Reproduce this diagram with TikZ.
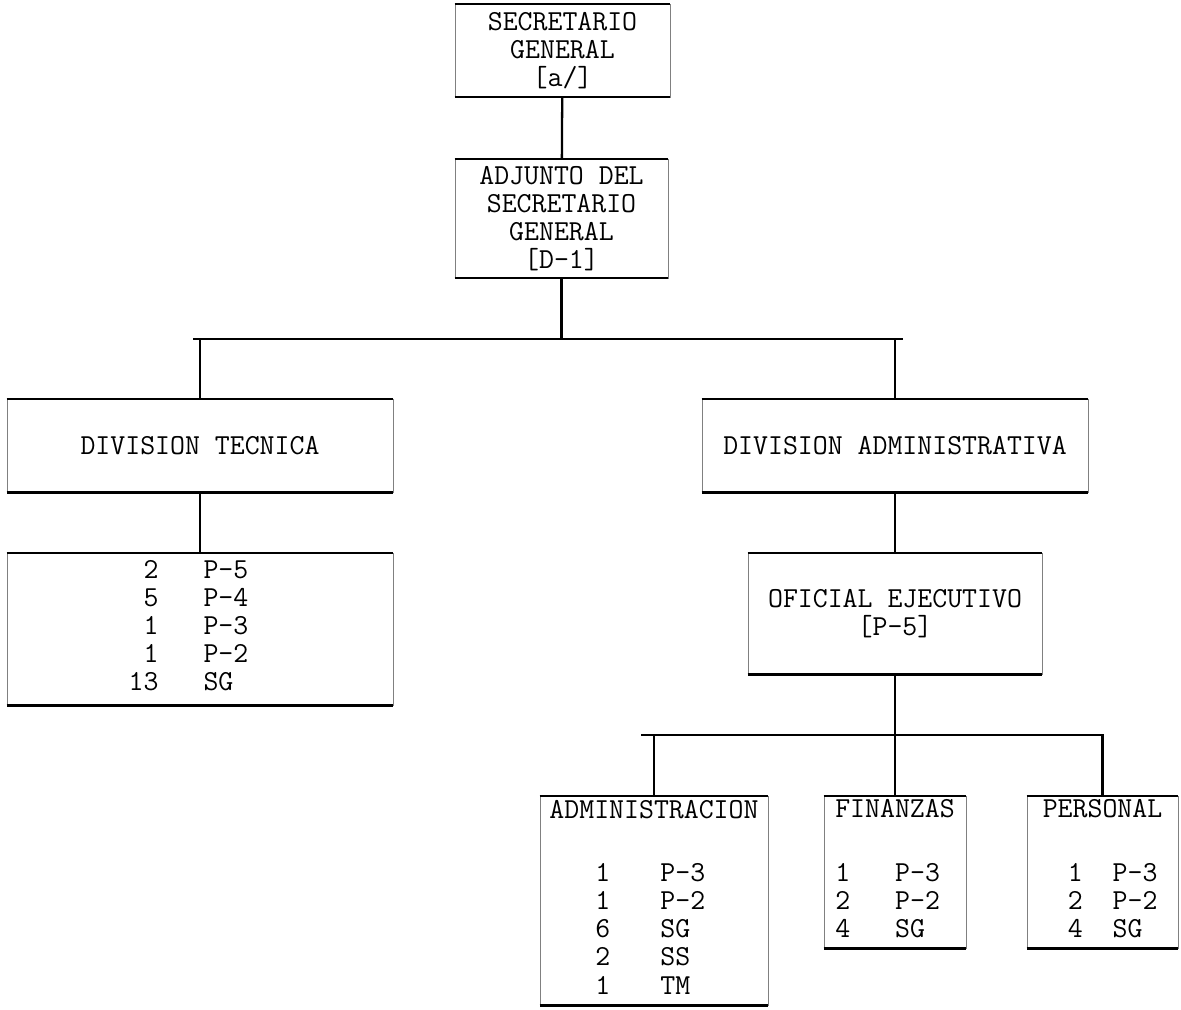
\documentclass[tikz,border=0pt]{standalone}
\usepackage{fontspec}
\usetikzlibrary{positioning}

\tikzset{
  box/.style={draw=black!50, line width=0.4pt, inner sep=0pt, align=center,
    font=\ttfamily\fontsize{16.5}{16}\selectfont},
  rule/.style={line width=1.3pt},
}

\begin{document}
\begin{tikzpicture}
  \useasboundingbox (0,0) rectangle (23.62,-20.18);
  % Top of the chart
  \node[box, minimum width=4.3cm, minimum height=1.86cm] (sg) at (11.25,-1.01)
    {SECRETARIO\\GENERAL\\{}[a/]};
  \node[box, minimum width=4.26cm, minimum height=2.38cm] (adj) at (11.23,-4.37)
    {ADJUNTO DEL\\SECRETARIO\\GENERAL\\{}[D-1]};
  \coordinate (barw) at (3.86,-6.78);
  \coordinate (bare) at (18.06,-6.78);
  % Divisions
  \node[box, minimum width=7.72cm, minimum height=1.86cm] (dt) at (4.0,-8.91) {DIVISION TECNICA};
  \node[box, minimum width=7.72cm, minimum height=1.86cm] (da) at (17.9,-8.91) {DIVISION ADMINISTRATIVA};
  \node[box, minimum width=7.72cm, minimum height=3.04cm] (dtstaff) at (4.0,-12.58)
    {\begin{tabular}{@{}r@{\hspace{0.9cm}}l@{\hspace{0.46cm}}}
      2 & P-5\\ 5 & P-4\\ 1 & P-3\\ 1 & P-2\\ 13 & SG
    \end{tabular}};
  \node[box, minimum width=5.88cm, minimum height=2.42cm] (oe) at (17.9,-12.27)
    {OFICIAL EJECUTIVO\\{}[P-5]};
  \coordinate (subw) at (12.82,-14.7);
  \coordinate (sube) at (22.08,-14.7);
  % Sections
  \node[box, minimum width=4.56cm, minimum height=4.18cm] (admin) at (13.08,-18.01)
    {\begin{tabular}{@{\hspace{0.92cm}}c@{\hspace{1.0cm}}l@{}}
      \multicolumn{2}{@{}c@{}}{ADMINISTRACION}\\ \\[4pt]
      1 & P-3\\ 1 & P-2\\ 6 & SG\\ 2 & SS\\ 1 & TM
    \end{tabular}};
  \node[box, minimum width=2.84cm, minimum height=3.04cm] (fin) at (17.9,-17.44)
    {\begin{tabular}{@{}l@{\hspace{0.9cm}}l@{}}
      \multicolumn{2}{@{}c@{}}{FINANZAS}\\ \\[4pt]
      1 & P-3\\ 2 & P-2\\ 4 & SG
    \end{tabular}};
  \node[box, minimum width=3.02cm, minimum height=3.04cm] (pers) at (22.05,-17.44)
    {\begin{tabular}{@{\hspace{0.5cm}}l@{\hspace{0.6cm}}l@{}}
      \multicolumn{2}{@{}c@{}}{PERSONAL}\\ \\[4pt]
      1 & P-3\\ 2 & P-2\\ 4 & SG
    \end{tabular}};
  % Heavy top and bottom edges
  \foreach \n in {sg,adj,dt,da,dtstaff,oe,admin,fin,pers}
    \draw[rule] (\n.north west) -- (\n.north east) (\n.south west) -- (\n.south east);
  % Connectors
  \draw[rule] (sg) -- (adj);
  \draw[rule] (adj) -- (adj |- barw);
  \draw[rule] (barw) -- (bare);
  \draw[rule] (dt.north) -- (dt.north |- barw);
  \draw[rule] (da.north) -- (da.north |- bare);
  \draw[rule] (dt) -- (dtstaff);
  \draw[rule] (da) -- (oe);
  \draw[rule] (oe) -- (oe |- subw);
  \draw[rule] (subw) -- (sube);
  \draw[rule] (admin.north) -- (admin.north |- subw);
  \draw[rule] (fin.north) -- (fin.north |- subw);
  \draw[rule] (pers.north) -- (pers.north |- sube);
\end{tikzpicture}
\end{document}
